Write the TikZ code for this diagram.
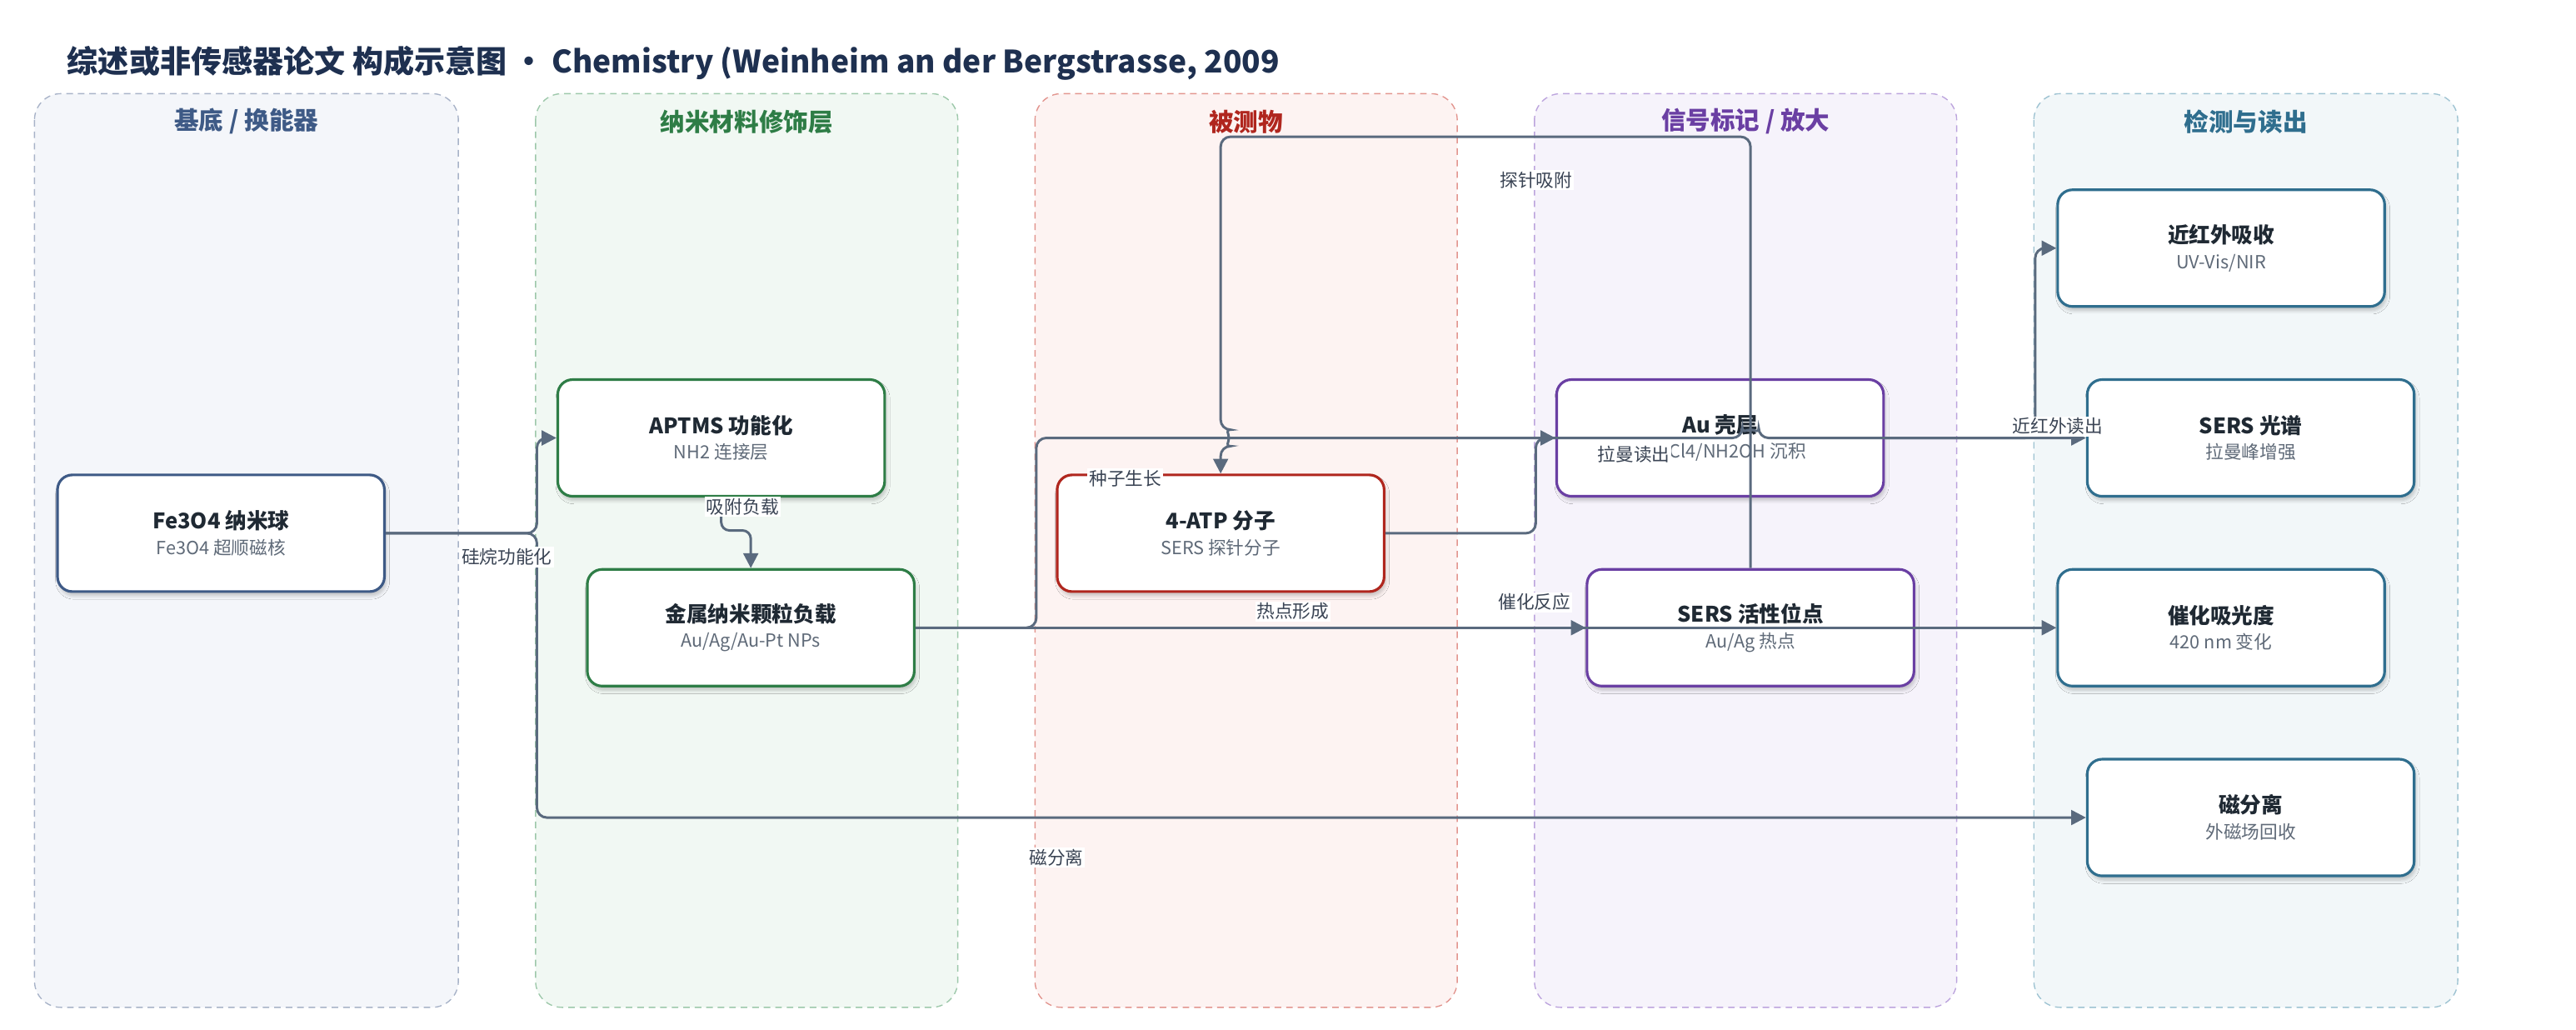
\documentclass[tikz,border=0pt]{standalone}
\usepackage{fontspec}
\setmainfont{Noto Sans CJK SC}
\usetikzlibrary{arrows.meta, calc, shadows.blur}

\definecolor{titletxt}{HTML}{1E3050}
\definecolor{substratetxt}{HTML}{3E5A86}
\definecolor{substratefill}{HTML}{F4F6FA}
\definecolor{substrateline}{HTML}{A8B3C8}
\definecolor{nanotxt}{HTML}{2E7D46}
\definecolor{nanofill}{HTML}{F1F8F3}
\definecolor{nanoline}{HTML}{9DC8AA}
\definecolor{analytetxt}{HTML}{B0261E}
\definecolor{analytefill}{HTML}{FDF3F2}
\definecolor{analyteline}{HTML}{E2958F}
\definecolor{signaltxt}{HTML}{6A3FA3}
\definecolor{signalfill}{HTML}{F6F3FB}
\definecolor{signalline}{HTML}{BCA4DD}
\definecolor{readtxt}{HTML}{2F6E8E}
\definecolor{readfill}{HTML}{F2F7F9}
\definecolor{readline}{HTML}{9EC3D2}
\definecolor{edgecol}{HTML}{5A6A7E}
\definecolor{nodetxt}{HTML}{1F2933}
\definecolor{subtxt}{HTML}{5F6A78}
\definecolor{lbltxt}{HTML}{3A4454}

\tikzset{
  box/.style={rectangle, rounded corners=9pt, line width=1.6pt, fill=white,
    minimum width=199pt, minimum height=71pt, align=center, inner sep=2pt, text=nodetxt,
    blur shadow={shadow xshift=1pt, shadow yshift=-2.5pt, shadow blur steps=6, shadow opacity=22}},
  lane/.style={rounded corners=16pt, line width=0.7pt, dash pattern=on 4pt off 3pt},
  lanetitle/.style={font=\bfseries\fontsize{15}{18}\selectfont},
  lbl/.style={fill=white, inner sep=1pt, font=\fontsize{11}{13}\selectfont, text=lbltxt},
  link/.style={draw=edgecol, line width=1.5pt, rounded corners=6pt, -{Triangle[length=9pt,width=9pt]}},
}
\newcommand{\twoline}[2]{{\bfseries\fontsize{13}{15}\selectfont #1}\\[3.5pt]{\fontsize{11}{13}\selectfont\color{subtxt}#2}}

\begin{document}
\begin{tikzpicture}[x=1pt, y=1pt]
\useasboundingbox (0,0) rectangle (1568,-626.3);

\node (title) at (37.5,-38.5) [anchor=west, font=\bfseries\fontsize{18.8}{23}\selectfont, text=titletxt] {综述或非传感器论文 构成示意图 • Chemistry (Weinheim an der Bergstrasse, 2009};

% lanes
\draw [lane, draw=substrateline, fill=substratefill] (21,-57) rectangle (279,-613);
\draw [lane, draw=nanoline, fill=nanofill] (326,-57) rectangle (583,-613);
\draw [lane, draw=analyteline, fill=analytefill] (630,-57) rectangle (887,-613);
\draw [lane, draw=signalline, fill=signalfill] (934,-57) rectangle (1191,-613);
\draw [lane, draw=readline, fill=readfill] (1238,-57) rectangle (1496,-613);

\node (tsubstrate) at (150,-74) [lanetitle, text=substratetxt] {基底 / 换能器};
\node (tnano) at (454.5,-74) [lanetitle, text=nanotxt] {纳米材料修饰层};
\node (tanalyte) at (758.5,-74) [lanetitle, text=analytetxt] {被测物};
\node (tsignal) at (1062.5,-74) [lanetitle, text=signaltxt] {信号标记 / 放大};
\node (tread) at (1367,-74) [lanetitle, text=readtxt] {检测与读出};

\begin{scope}[every node/.style={box, draw=substratetxt}]
    \node (fe) at (134.5,-324.5) {\twoline{Fe3O4 纳米球}{Fe3O4 超顺磁核}};
\end{scope}

\begin{scope}[every node/.style={box, draw=nanotxt}]
    \node (aptms) at (439,-266.5) {\twoline{APTMS 功能化}{NH2 连接层}};
    \node (metal) at (457,-382) {\twoline{金属纳米颗粒负载}{Au/Ag/Au-Pt NPs}};
\end{scope}

\begin{scope}[every node/.style={box, draw=analytetxt}]
    \node (atp) at (743,-324.5) {\twoline{4-ATP 分子}{SERS 探针分子}};
\end{scope}

\begin{scope}[every node/.style={box, draw=signaltxt}]
    \node (au) at (1047,-266.5) {\twoline{Au 壳层}{HAuCl4/NH2OH 沉积}};
    \node (site) at (1065.5,-382) {\twoline{SERS 活性位点}{Au/Ag 热点}};
\end{scope}

\begin{scope}[every node/.style={box, draw=readtxt}]
    \node (nir) at (1352,-151) {\twoline{近红外吸收}{UV-Vis/NIR}};
    \node (spec) at (1370,-266.5) {\twoline{SERS 光谱}{拉曼峰增强}};
    \node (cat) at (1352,-382) {\twoline{催化吸光度}{420 nm 变化}};
    \node (mag) at (1370,-497.5) {\twoline{磁分离}{外磁场回收}};
\end{scope}

% connectors
\draw [link] (fe.east) -- ++(92,0) |- (aptms.west);
\draw [link] (fe.east) -- ++(92,0) |- (mag.west);
\draw [link, rounded corners=5pt] (aptms.south) -- ++(0,-20) -| (metal.north);
\draw [link] (metal.east) -- ++(73.5,0) |- (au.west);
\draw [link] (metal.east) -- (site.west);
\draw [link] (metal.east) -- (cat.west);
\draw [link] (atp.east) -- ++(91.5,0) |- ($(site.north |- au.west)+(-5,0)$) arc[start angle=180, end angle=0, radius=5] -- (spec.west);
\draw [link] (site.north) -- ++(0,262.5) -| ($(atp.north |- au.west)+(0,5)$) arc[start angle=90, end angle=-90, radius=5] -- (atp.north);
\draw [link] (au.east) -- ++(91.5,0) |- (nir.west);

% labels
\node (lsilane) at (308.5,-339) [lbl] {硅烷功能化};
\node (lload) at (452,-308.5) [lbl] {吸附负载};
\node (lseed) at (685,-291) [lbl] {种子生长};
\node (lhot) at (787,-372) [lbl] {热点形成};
\node (lcat) at (934,-366.5) [lbl] {催化反应};
\node (lprobe) at (935,-109.5) [lbl] {探针吸附};
\node (lraman) at (994.5,-276.5) [lbl] {拉曼读出};
\node (lnir) at (1252.5,-259.5) [lbl] {近红外读出};
\node (lmag) at (643,-522) [lbl] {磁分离};
\end{tikzpicture}
\end{document}
